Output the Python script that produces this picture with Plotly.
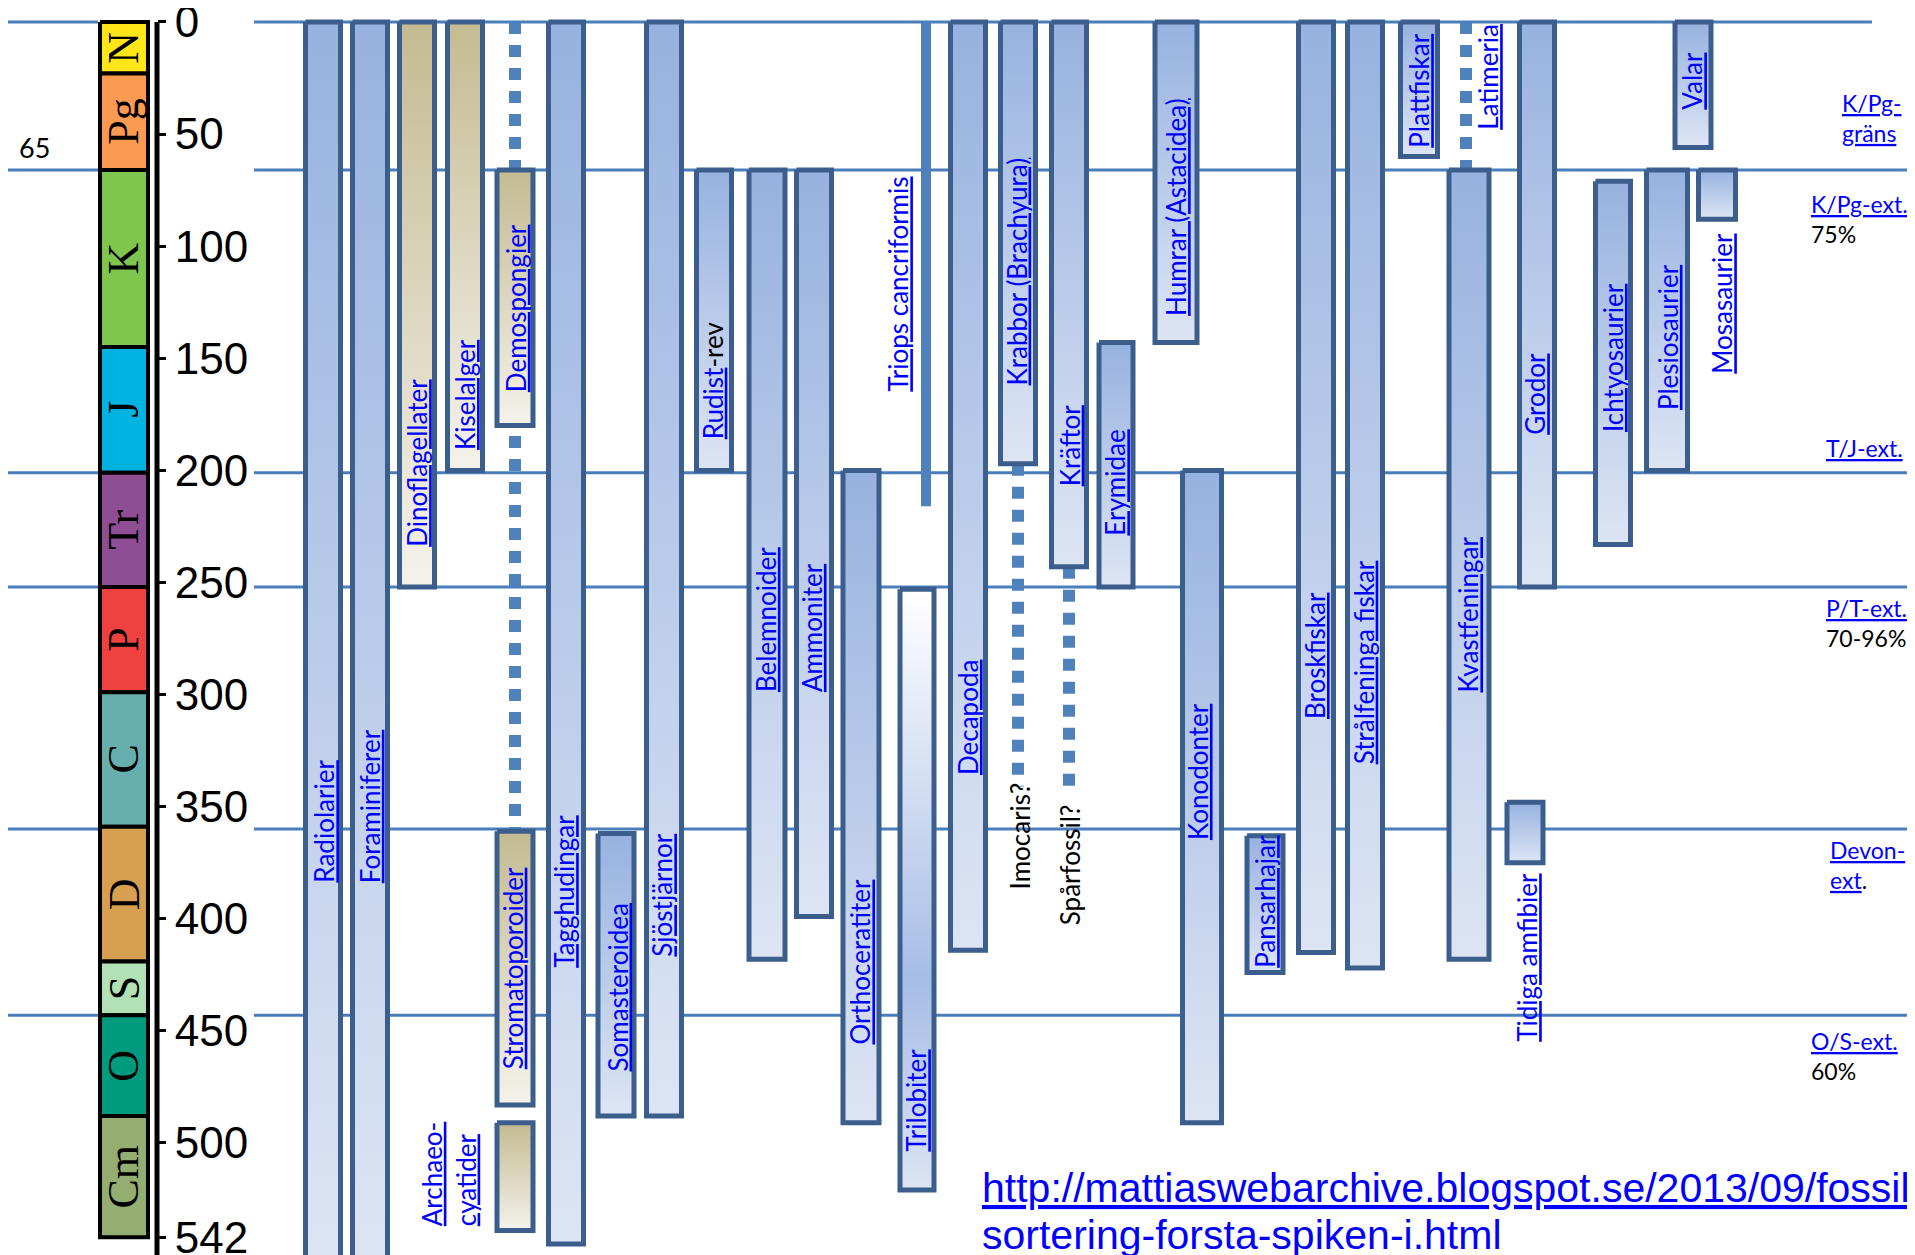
import plotly.graph_objects as go

# geologic periods (Ma)
period_names = ["N", "Pg", "K", "J", "Tr", "P", "C", "D", "S", "O", "Cm"]
period_start = [0, 23, 66, 145, 201, 252, 299, 359, 419, 443, 488]
period_end = [23, 66, 145, 201, 252, 299, 359, 419, 443, 488, 542]
period_colors = ["#FFE619", "#FD9A52", "#7FC64E", "#00B2E2", "#8F4E94", "#EF4240",
                 "#67AFAE", "#D6A050", "#B3E1B6", "#009A7E", "#94AE72"]

axis_ticks = [0, 50, 100, 150, 200, 250, 300, 350, 400, 450, 500, 542]

# horizontal boundaries (present + extinctions)
boundary_ma = [0, 66, 201, 252, 360, 443]

# taxa ranges (Ma)
taxa = ["Radiolarier", "Foraminiferer", "Dinoflagellater", "Kiselalger", "Demospongier",
        "Stromatoporoider", "Archaeocyatider", "Tagghudingar", "Somasteroidea", "Sjöstjärnor",
        "Rudist-rev", "Belemnoider", "Ammoniter", "Orthoceratiter", "Trilobiter",
        "Decapoda", "Krabbor (Brachyura)", "Kräftor", "Erymidae", "Humrar (Astacidea)",
        "Konodonter", "Pansarhajar", "Broskfiskar", "Strålfeninga fiskar", "Plattfiskar",
        "Kvastfeningar", "Grodor", "Tidiga amfibier", "Ichtyosaurier", "Plesiosaurier",
        "Mosasaurier", "Valar"]
taxa_start = [0, 0, 0, 0, 66, 361, 491, 0, 362, 0,
              66, 66, 66, 200, 253, 0, 0, 0, 143, 0,
              200, 363, 0, 0, 0, 66, 0, 348, 71, 66,
              66, 0]
taxa_end = [552, 552, 252, 200, 180, 483, 539, 545, 488, 488,
            200, 418, 399, 491, 521, 414, 197, 243, 252, 143,
            491, 424, 415, 422, 60, 418, 252, 375, 233, 200,
            88, 56]
taxa_fill = ["blue", "blue", "tan", "tan", "tan", "tan", "tan", "blue", "blue", "blue",
             "blue", "blue", "blue", "blue", "pale", "blue", "blue", "blue", "blue", "blue",
             "blue", "blue", "blue", "blue", "blue", "blue", "blue", "blue", "blue", "blue",
             "blue", "blue"]

# uncertain (dotted) ranges
dotted_start = [0, 197, 243, 0]
dotted_end = [361, 341, 344, 66]

# Triops cancriformis (thin line)
triops_start = [0]
triops_end = [216]

# ---- layout positions (pixels along x) ----
taxa_x = [323, 370, 417, 465, 515, 515, 515, 566, 616, 664,
          714, 767, 814, 861, 917, 968, 1018, 1069, 1116, 1176,
          1202, 1265, 1316, 1365, 1419, 1469, 1537, 1525, 1613, 1667,
          1717, 1693]
taxa_w = [40, 40, 40, 40, 41, 41, 41, 40, 41, 40,
          40, 41, 40, 41, 39, 40, 40, 40, 39, 47,
          44, 41, 40, 40, 42, 45, 40, 41, 40, 46,
          42, 41]
dotted_x = [515, 1018, 1069, 1466]
triops_x = [926]

gradients = {
    "blue": [[0, "#97B2E0"], [1, "#DDE5F4"]],
    "tan": [[0, "#C4BB92"], [1, "#F4F2EB"]],
    "pale": [[0, "#FFFFFF"], [0.65, "#A6BDE6"], [1, "#DCE4F3"]],
}

fig = go.Figure()

# extinction lines
hx, hy = [], []
for i, b in enumerate(boundary_ma):
    right = 1872 if i == 0 else 1915
    hx += [0, 98, None, 254, right, None]
    hy += [b, b, None, b, b, None]
fig.add_trace(go.Scatter(x=hx, y=hy, mode="lines", line=dict(color="#4A7EBB", width=3),
                         hoverinfo="skip", showlegend=False))

# dotted ranges
for x, s, e in zip(dotted_x, dotted_start, dotted_end):
    fig.add_trace(go.Scatter(x=[x, x], y=[s, e], mode="lines",
                             line=dict(color="#4F81BD", width=12, dash="12px,11px"),
                             hoverinfo="skip", showlegend=False))

for x, s, e in zip(triops_x, triops_start, triops_end):
    fig.add_trace(go.Scatter(x=[x, x], y=[s, e], mode="lines",
                             line=dict(color="#4F81BD", width=10),
                             hoverinfo="skip", showlegend=False))

# taxa bars
for name, s, e, f, cx, w in zip(taxa, taxa_start, taxa_end, taxa_fill, taxa_x, taxa_w):
    x0, x1 = cx - w / 2 + 2.5, cx + w / 2 - 2.5
    fig.add_trace(go.Scatter(
        x=[x0, x1, x1, x0, x0], y=[s, s, e, e, s], mode="lines", fill="toself",
        fillgradient=dict(type="vertical", colorscale=gradients[f], start=s, stop=e),
        line=dict(color="#3B5E8C", width=5), name=name,
        hoverinfo="skip", showlegend=False))

# period column
for p, s, e, c in zip(period_names, period_start, period_end, period_colors):
    fig.add_trace(go.Scatter(
        x=[100, 148, 148, 100, 100], y=[s, s, e, e, s], mode="lines", fill="toself",
        fillcolor=c, line=dict(color="black", width=4), hoverinfo="skip", showlegend=False))
    fig.add_annotation(x=124, y=(s + e) / 2, text=p, showarrow=False, textangle=-90,
                       font=dict(family="Liberation Serif", size=44, color="black"))

# time axis line
fig.add_trace(go.Scatter(x=[157, 157], y=[period_start[0], 560], mode="lines",
                         line=dict(color="black", width=5), hoverinfo="skip", showlegend=False))

# taxa labels
label_text = ["<u>Radiolarier</u>", "<u>Foraminiferer</u>", "<u>Dinoflagellater</u>",
              "<u>Kiselalger</u>", "<u>Demospongier</u>", "<u>Stromatoporoider</u>",
              "<u>Archaeo-</u><br><u>cyatider</u>", "<u>Tagghudingar</u>",
              "<u>Somasteroidea</u>", "<u>Sjöstjärnor</u>",
              "<u>Rudist</u><span style='color:black'>-rev</span>", "<u>Belemnoider</u>",
              "<u>Ammoniter</u>", "<u>Orthoceratiter</u>", "<u>Triops cancriformis</u>",
              "<u>Trilobiter</u>", "<u>Decapoda</u>", "<u>Krabbor (Brachyura)</u>",
              "<span style='color:black'>Imocaris?</span>", "<u>Kräftor</u>",
              "<span style='color:black'>Spårfossil?</span>", "<u>Erymidae</u>",
              "<u>Humrar (Astacidea)</u>", "<u>Konodonter</u>", "<u>Pansarhajar</u>",
              "<u>Broskfiskar</u>", "<u>Strålfeninga fiskar</u>", "<u>Plattfiskar</u>",
              "<u>Latimeria</u>", "<u>Kvastfeningar</u>", "<u>Grodor</u>",
              "<u>Tidiga amfibier</u>", "<u>Ichtyosaurier</u>", "<u>Plesiosaurier</u>",
              "<u>Mosasaurier</u>", "<u>Valar</u>"]
label_x = [324, 370, 417, 465, 516, 513, 449, 564, 618, 662,
           713, 766, 812, 860, 898, 916, 968, 1017, 1020, 1070,
           1070, 1115, 1176, 1198, 1265, 1315, 1364, 1419, 1488, 1468,
           1535, 1527, 1613, 1668, 1722, 1692]
label_y = [385, 385, 235, 192, 166, 468, 538, 423, 469, 418,
           187, 300, 300, 457, 166, 505, 337, 163, 388, 208,
           404, 230, 132, 366, 423, 312, 332, 57, 49, 300,
           185, 456, 184, 174, 158, 40]
for t, x, y in zip(label_text, label_x, label_y):
    fig.add_annotation(x=x, y=y, text=t, showarrow=False, textangle=-90,
                       xanchor="center", yanchor="bottom", align="left",
                       font=dict(family="Lato", size=26, color="#0000FF"))

# extinction labels on the right
ext_text = ["<u>K/Pg-</u><br><u>gräns</u>",
            "<u>K/Pg-ext.</u><br><span style='color:black'>75%</span>",
            "<u>T/J-ext.</u>",
            "<u>P/T-ext.</u><br><span style='color:black'>70-96%</span>",
            "<u>Devon-</u><br><u>ext</u><span style='color:black'>.</span>",
            "<u>O/S-ext.</u><br><span style='color:black'>60%</span>"]
ext_x = [1840, 1809, 1824, 1824, 1828, 1809]
ext_y = [43, 88, 190, 268, 376, 461]
for t, x, y in zip(ext_text, ext_x, ext_y):
    fig.add_annotation(x=x, y=y, text=t, showarrow=False, xanchor="left",
                       yanchor="middle", align="left",
                       font=dict(family="Lato", size=23, color="#0000FF"))

fig.add_annotation(x=34, y=56, text="65", showarrow=False,
                   font=dict(family="Lato", size=27, color="black"))

# source
fig.add_annotation(x=980, y=520, text="<u>http://mattiaswebarchive.blogspot.se/2013/09/fossil</u>",
                   showarrow=False, xanchor="left", yanchor="middle",
                   font=dict(family="Liberation Sans", size=41, color="#0000FF"))
fig.add_annotation(x=980, y=541, text="sortering-forsta-spiken-i.html",
                   showarrow=False, xanchor="left", yanchor="middle",
                   font=dict(family="Liberation Sans", size=41, color="#0000FF"))

# page body has an 8px margin: plot area starts at pixel 8
fig.update_layout(
    width=1907, height=1247, margin=dict(l=0, r=0, t=0, b=0),
    plot_bgcolor="white", paper_bgcolor="white", showlegend=False,
    xaxis=dict(range=[8, 1915], visible=False, fixedrange=True),
    yaxis=dict(range=[549.96, -6.24], showgrid=False, zeroline=False, showline=False,
               anchor="free", position=(157 - 8) / 1907, side="right",
               tickvals=axis_ticks, ticktext=[str(t) for t in axis_ticks],
               ticks="outside", ticklen=8, tickwidth=3, tickcolor="black",
               ticklabeloverflow="allow",
               tickfont=dict(family="Liberation Sans", size=44, color="black"),
               automargin=False, fixedrange=True),
)

fig.write_html("out.html")
